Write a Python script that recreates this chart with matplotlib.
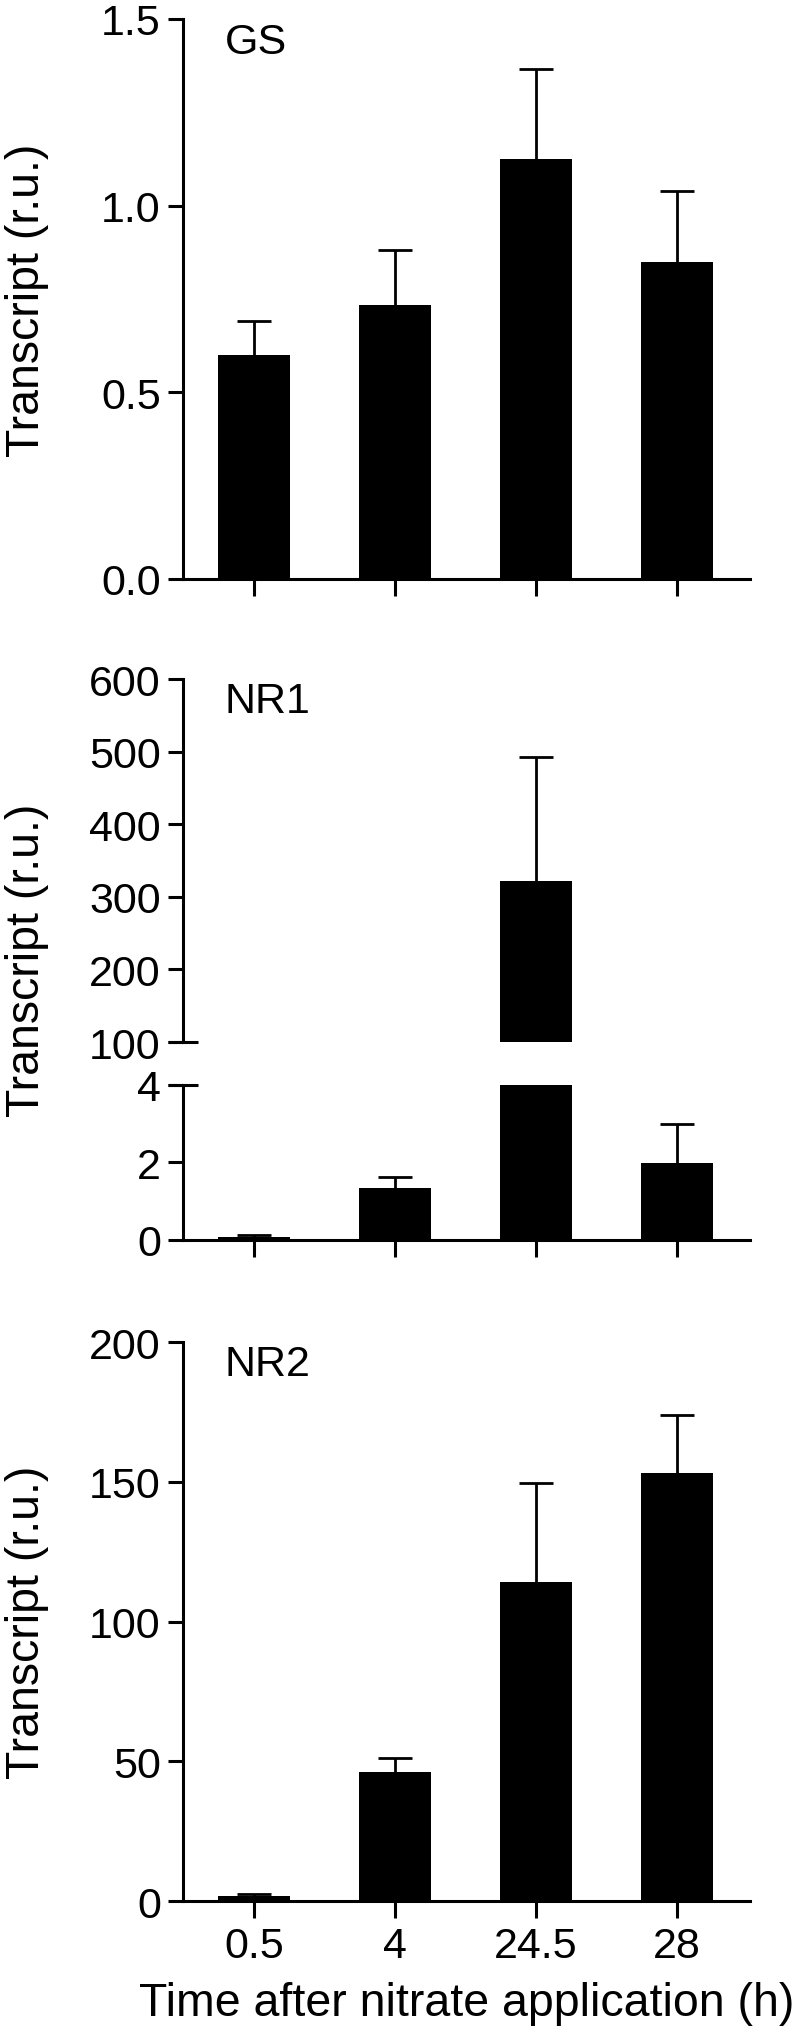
#!/usr/bin/env python3
"""Transcript levels of GS, NR1 and NR2 after nitrate application"""

import matplotlib
matplotlib.use("Agg")
import matplotlib.pyplot as plt

plt.rcParams["font.family"] = ["Liberation Sans", "DejaVu Sans"]

times = ["0.5", "4", "24.5", "28"]

gs_mean = [0.60, 0.735, 1.125, 0.85]
gs_err = [0.09, 0.145, 0.24, 0.19]

nr1_mean = [0.08, 1.33, 322, 1.99]
nr1_err = [0.06, 0.30, 171, 0.99]

nr2_mean = [1.8, 46.3, 114.2, 153.2]
nr2_err = [0.7, 4.8, 35.5, 20.8]

LW = 2.2
TICK_FS = 31
PANEL_FS = 31
LABEL_FS = 33.5
XLIM = (-0.505, 3.52)


def draw_bars(ax, mean, err):
    x = range(len(mean))
    ax.bar(x, mean, width=0.51, color="black", zorder=2)
    eb = ax.errorbar(x, mean, yerr=[[0] * len(err), err], fmt="none", ecolor="black",
                     elinewidth=2, capsize=12.2, capthick=2, zorder=1)
    eb[1][0].set_visible(False)  # no cap at the bar top
    ax.set_xlim(*XLIM)
    for s in ["top", "right"]:
        ax.spines[s].set_visible(False)
    for s in ["left", "bottom"]:
        ax.spines[s].set_linewidth(LW)
    ax.tick_params(axis="y", direction="out", length=11, width=LW,
                   labelsize=TICK_FS, pad=5)
    ax.tick_params(axis="x", direction="out", length=12, width=LW,
                   labelsize=TICK_FS, pad=6)
    ax.set_xticks(list(x))
    ax.set_xticklabels([])


fig = plt.figure(figsize=(7.97, 20.4), dpi=100)
left, width = 0.2296, 0.7114

# GS
ax1 = fig.add_axes([left, 0.7157, width, 0.2745])
draw_bars(ax1, gs_mean, gs_err)
ax1.set_ylim(0, 1.5)
ax1.set_yticks([0, 0.5, 1.0, 1.5])
ax1.set_yticklabels(["0.0", "0.5", "1.0", "1.5"])

# NR1 (broken axis)
ax2u = fig.add_axes([left, 0.4887, width, 0.1779])
draw_bars(ax2u, nr1_mean, nr1_err)
ax2u.set_ylim(100, 600)
ax2u.set_yticks([100, 200, 300, 400, 500, 600])
ax2u.spines["bottom"].set_visible(False)
ax2u.tick_params(axis="x", bottom=False)

ax2l = fig.add_axes([left, 0.3917, width, 0.0760])
draw_bars(ax2l, nr1_mean, nr1_err)
ax2l.set_ylim(0, 4)
ax2l.set_yticks([0, 2, 4])

# break marks
ax2u.plot(XLIM[0], 100, marker="_", markersize=22, mew=LW, color="black", clip_on=False)
ax2l.plot(XLIM[0], 4, marker="_", markersize=22, mew=LW, color="black", clip_on=False)

# NR2
ax3 = fig.add_axes([left, 0.0676, width, 0.2740])
draw_bars(ax3, nr2_mean, nr2_err)
ax3.set_ylim(0, 200)
ax3.set_yticks([0, 50, 100, 150, 200])
ax3.set_xticklabels(times)
ax3.set_xlabel("Time after nitrate application (h)", fontsize=LABEL_FS, labelpad=11)

# panel labels
fig.text(0.2823, 0.9735, "GS", fontsize=PANEL_FS, va="baseline")
fig.text(0.2823, 0.6505, "NR1", fontsize=PANEL_FS, va="baseline")
fig.text(0.2823, 0.3255, "NR2", fontsize=PANEL_FS, va="baseline")

# y labels
for yc in [(20 + 580) / 2, (680 + 1241) / 2, (1343 + 1902) / 2]:
    fig.text(0.034, 1 - yc / 2040, "Transcript (r.u.)", fontsize=LABEL_FS,
             rotation=90, ha="center", va="center")

plt.savefig("out.png", dpi=100)
